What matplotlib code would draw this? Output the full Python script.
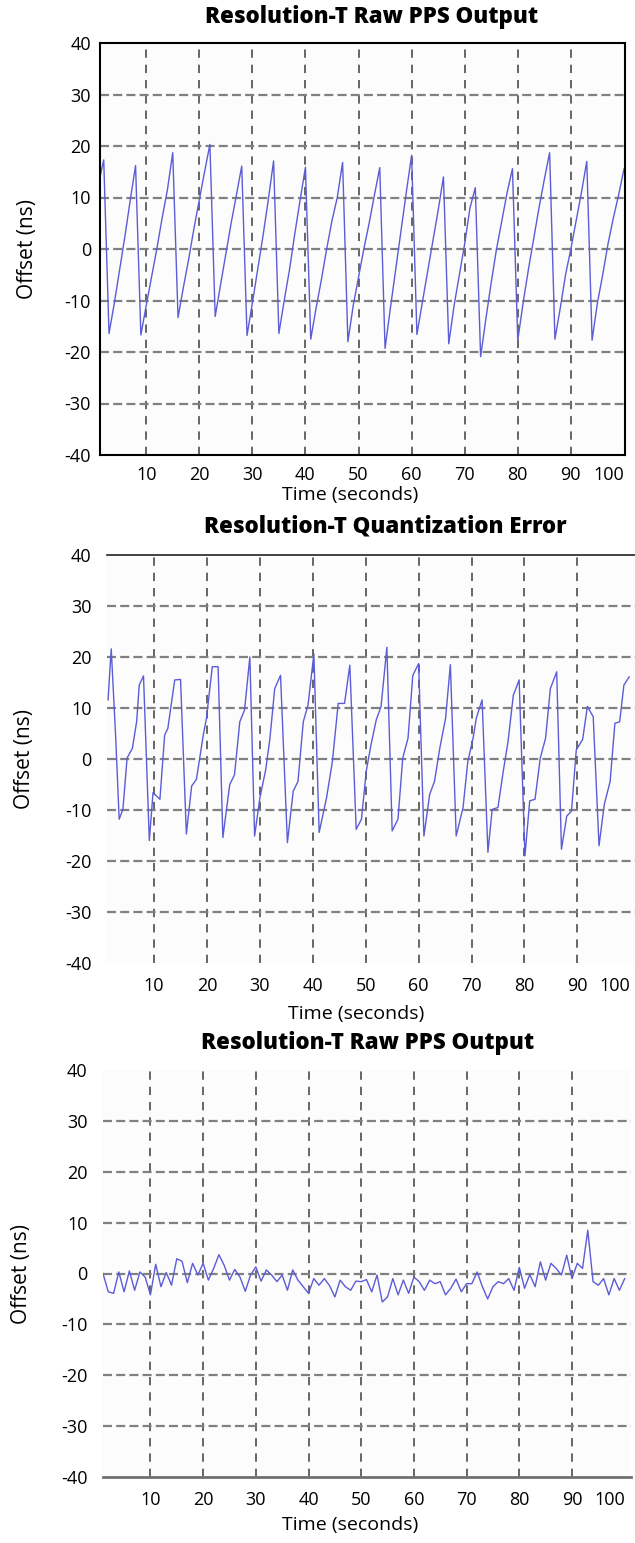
#!/usr/bin/env python

import matplotlib.pyplot as plt

plt.switch_backend('agg')
plt.rcParams['font.family'] = ['Open Sans', 'DejaVu Sans']
plt.rcParams['lines.scale_dashes'] = False
plt.rcParams['axes.unicode_minus'] = False

# panel 1: raw PPS output, one sample per second
raw_time = list(range(1, 101))
raw_offset = [12.5, 17.3, -16.4, -10.5, -4.0, 2.5, 9.5, 16.2, -16.7, -11.0,
              -5.5, 0.0, 6.0, 11.5, 18.7, -13.3, -7.5, -2.0, 4.0, 9.5,
              15.0, 20.3, -13.1, -7.0, -1.0, 5.0, 10.5, 16.1, -16.8, -10.5,
              -4.0, 2.5, 9.5, 17.1, -16.4, -10.0, -4.0, 3.0, 9.5, 15.9,
              -17.5, -11.5, -6.0, 0.0, 5.5, 10.0, 16.8, -18.0, -11.0, -5.5,
              0.0, 5.0, 10.5, 15.8, -19.3, -11.5, -4.0, 3.5, 11.0, 18.2,
              -16.6, -10.5, -4.5, 1.5, 7.5, 14.0, -18.4, -11.0, -5.0, 1.0,
              8.0, 11.9, -20.9, -13.5, -6.5, 0.0, 5.5, 11.0, 15.6, -17.7,
              -10.5, -4.0, 2.0, 8.0, 13.5, 18.7, -17.5, -11.5, -5.0, 0.0,
              5.5, 11.0, 17.0, -17.7, -10.5, -5.0, 1.0, 6.0, 10.5, 15.5]

# panel 2: quantization error
quant_time = [1.3, 1.9, 2.75, 3.4, 4.1, 4.9, 5.9, 6.7, 7.2, 8.0,
              9.1, 9.8, 11.1, 12.0, 12.6, 13.9, 15.0, 16.1, 17.1, 18.0,
              19.3, 19.9, 21.0, 22.1, 23.0, 24.3, 25.2, 26.2, 27.1, 28.1,
              29.0, 30.0, 31.1, 31.9, 32.8, 33.9, 35.2, 36.3, 37.2, 38.2,
              39.1, 40.2, 41.2, 42.6, 43.7, 44.8, 46.0, 47.0, 48.2, 49.2,
              50.1, 51.0, 52.0, 52.9, 54.0, 55.0, 56.1, 57.0, 58.0, 58.9,
              60.0, 61.0, 62.1, 63.0, 64.0, 65.1, 66.0, 67.1, 68.4, 69.3,
              70.3, 70.9, 72.0, 73.1, 73.9, 75.0, 76.0, 76.9, 77.9, 79.0,
              80.1, 81.0, 82.0, 83.0, 84.0, 84.9, 86.1, 87.0, 88.0, 88.9,
              89.8, 91.0, 91.9, 93.0, 94.1, 95.1, 96.2, 97.1, 98.0, 98.8,
              99.8]
quant_offset = [11.6, 21.6, 4.1, -11.8, -9.9, 0.2, 2.1, 7.3, 14.5, 16.3,
                -16.0, -6.6, -7.9, 4.7, 6.0, 15.5, 15.6, -14.7, -5.3, -4.0,
                4.7, 8.0, 18.1, 18.1, -15.4, -5.0, -3.1, 7.3, 9.6, 20.0,
                -15.1, -7.6, -2.1, 4.1, 13.8, 16.4, -16.4, -6.3, -4.4, 7.3,
                10.6, 20.6, -14.4, -7.6, -0.5, 10.9, 10.9, 18.4, -13.8, -11.8,
                -2.4, 2.8, 7.7, 10.3, 21.9, -14.1, -11.8, 0.2, 4.1, 16.4,
                18.7, -15.1, -6.9, -4.4, 2.1, 8.0, 18.5, -15.1, -9.5, -0.5,
                4.1, 8.0, 11.6, -18.3, -9.9, -9.5, -2.4, 3.4, 12.5, 15.5,
                -19.0, -8.2, -7.9, 0.2, 4.1, 13.8, 17.1, -17.7, -11.2, -10.2,
                1.8, 3.8, 10.3, 8.3, -17.0, -8.9, -4.4, 7.0, 7.3, 14.5,
                16.1]

# panel 3: raw PPS output after correction
corr_time = list(range(1, 101))
corr_offset = [0.0, -3.6, -3.9, 0.3, -3.6, 0.5, -3.3, 0.3, -0.7, -4.2,
               1.8, -2.6, 0.2, -2.3, 2.9, 2.4, -1.8, 2.0, -0.3, 2.0,
               -1.3, 1.0, 3.7, 1.6, -1.3, 0.8, -0.7, -3.5, -0.3, 1.3,
               -1.5, 0.7, -0.3, -1.6, -0.3, -3.3, 0.7, -1.3, -2.6, -3.9,
               -1.0, -2.3, -1.0, -2.4, -4.6, -1.3, -2.6, -3.3, -1.5, -1.6,
               -1.2, -3.6, -0.3, -5.6, -4.6, -1.0, -4.2, -1.3, -3.9, -0.7,
               -1.6, -3.3, -1.3, -2.0, -1.6, -4.2, -2.9, -1.1, -3.6, -2.0,
               -2.0, 0.3, -2.6, -5.0, -2.6, -1.6, -2.0, -1.0, -3.3, 1.2,
               -2.9, -0.2, -2.6, 2.3, -1.3, 2.0, 1.0, -0.3, 3.6, -1.0,
               2.0, 1.0, 8.5, -1.6, -2.3, -1.0, -4.2, -1.0, -3.3, -1.0]

x_ticks = [10, 20, 30, 40, 50, 60, 70, 80, 90, 100]
y_ticks = [-40, -30, -20, -10, 0, 10, 20, 30, 40]

titles = ['Resolution-T Raw PPS Output',
          'Resolution-T Quantization Error',
          'Resolution-T Raw PPS Output']


def plot_panel(fig, rect, t, y, xlim, spines, spine_style, ypad, xpad,
               ylab_x, xlab_xy):
    ax = fig.add_axes(rect)
    ax.set_facecolor('#fcfcfc')
    ax.plot(t, y, color='#5c5cd6', lw=1.0)
    ax.set_xlim(xlim)
    ax.set_ylim(-40, 40)
    ax.set_xticks(x_ticks)
    ax.set_yticks(y_ticks)
    ax.tick_params(length=0, labelsize=13, colors='black')
    ax.tick_params(axis='y', pad=ypad)
    ax.tick_params(axis='x', pad=xpad)
    ax.xaxis.grid(True, color='#5a5a5a', lw=1.3, linestyle=(0, (6, 5)))
    ax.yaxis.grid(True, color='#808080', lw=1.6, linestyle=(0, (6.5, 3)))
    ax.set_axisbelow(True)
    # no grid line on the edges
    ax.get_xgridlines()[-1].set_visible(False)
    ax.get_ygridlines()[0].set_visible(False)
    ax.get_ygridlines()[-1].set_visible(False)
    for name, sp in ax.spines.items():
        if name in spines:
            sp.set_color(spine_style[0])
            sp.set_linewidth(spine_style[1])
        else:
            sp.set_visible(False)
    labels = ax.get_xticklabels()
    labels[-1].set_horizontalalignment('right')
    ax.set_ylabel('Offset (ns)', fontsize=15)
    ax.yaxis.set_label_coords(ylab_x, 0.5)
    ax.set_xlabel('Time (seconds)', fontsize=14)
    ax.xaxis.set_label_coords(*xlab_xy)
    return ax


def main():
    fig = plt.figure(figsize=(6.35, 15.43), dpi=100)
    W, H = 635.0, 1543.0

    def rect(l, r, top, bot):
        return [l / W, 1 - bot / H, (r - l) / W, (bot - top) / H]

    plot_panel(fig, rect(100, 625, 43, 455), raw_time, raw_offset,
               (1.3, 100.2), ['left', 'right', 'top', 'bottom'],
               ('black', 1.5), 6.5, 8.0, -0.118, (0.476, -0.075))
    fig.text(372 / W, 1 - 17 / H, titles[0], ha='center', va='center',
             fontsize=16, fontweight='heavy')

    plot_panel(fig, rect(107, 635, 555, 963), quant_time, quant_offset,
               (1.1, 100.9), ['top'], ('#222222', 1.2),
               11.0, 10.0, -0.136, (0.472, -0.104))
    fig.text(385 / W, 1 - 527 / H, titles[1], ha='center', va='center',
             fontsize=16, fontweight='heavy')

    plot_panel(fig, rect(103, 631, 1070, 1477), corr_time, corr_offset,
               (1.0, 101.2), ['bottom'], ('#707070', 2.0),
               11.0, 10.0, -0.134, (0.468, -0.097))
    fig.text(368 / W, 1 - 1043 / H, titles[2], ha='center', va='center',
             fontsize=16, fontweight='heavy')

    fig.savefig('out.png', dpi=100, facecolor='white')


if __name__ == "__main__":
    main()
